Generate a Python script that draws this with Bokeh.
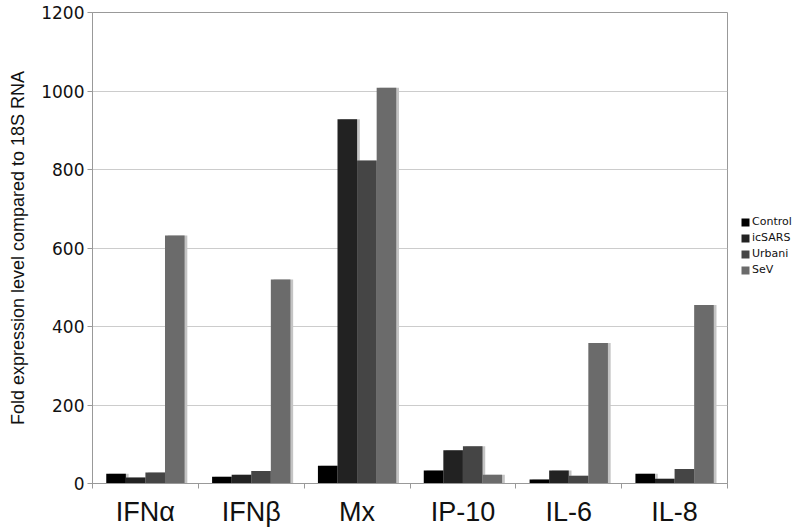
from bokeh.plotting import figure
from bokeh.layouts import row
from bokeh.models import ColumnDataSource, FixedTicker, Range1d, Legend, LegendItem
from bokeh.transform import dodge
from bokeh.embed import file_html
from bokeh.resources import INLINE

categories = ["IFNα", "IFNβ", "Mx", "IP-10", "IL-6", "IL-8"]
series = ["Control", "icSARS", "Urbani", "SeV"]
control = [25, 17, 45, 33, 10, 25]
icsars = [15, 22, 928, 85, 33, 12]
urbani = [28, 32, 823, 95, 20, 37]
sev = [632, 520, 1008, 22, 358, 455]
colors = ["#000000", "#222222", "#454545", "#6b6b6b"]
y_ticks = [0, 200, 400, 600, 800, 1000, 1200]

centers = [i + 0.5 for i in range(len(categories))]
src = ColumnDataSource(dict(x=centers, Control=control, icSARS=icsars, Urbani=urbani, SeV=sev))

H = 529
p = figure(width=729, height=H, output_backend="svg", toolbar_location=None,
           x_range=Range1d(0, len(categories)), y_range=Range1d(0, 1200),
           min_border_left=92, min_border_top=12, min_border_bottom=41, min_border_right=2)

bw = 0.185
for j, name in enumerate(series):
    off = (j - 1.5) * bw
    p.vbar(x=dodge("x", off + 0.026, range=p.x_range), top=name, width=bw, source=src,
           fill_color="#c4c4c4", line_color=None)
for j, (name, col) in enumerate(zip(series, colors)):
    off = (j - 1.5) * bw
    p.vbar(x=dodge("x", off, range=p.x_range), top=name, width=bw, source=src,
           fill_color=col, line_color=None)

# x axis
p.xaxis.ticker = FixedTicker(ticks=centers, minor_ticks=list(range(len(categories) + 1)))
p.xaxis.major_label_overrides = {c: lab for c, lab in zip(centers, categories)}
p.xaxis.major_tick_out = 0
p.xaxis.major_tick_in = 0
p.xaxis.minor_tick_out = 5
p.xaxis.minor_tick_in = 0
p.xaxis.minor_tick_line_color = "#999999"
p.xaxis.axis_line_color = "#999999"
p.xaxis.major_label_text_font = "Liberation Sans"
p.xaxis.major_label_text_font_size = "27px"
p.xaxis.major_label_text_color = "#111111"
p.xaxis.major_label_standoff = 8

# y axis
p.yaxis.ticker = FixedTicker(ticks=y_ticks)
p.yaxis.minor_tick_line_color = None
p.yaxis.major_tick_out = 5
p.yaxis.major_tick_in = 0
p.yaxis.major_tick_line_color = "#999999"
p.yaxis.axis_line_color = "#999999"
p.yaxis.major_label_text_font = "DejaVu Sans"
p.yaxis.major_label_text_font_size = "17px"
p.yaxis.major_label_text_color = "#111111"
p.yaxis.major_label_standoff = 3
p.yaxis.axis_label = "Fold expression level compared to 18S RNA"
p.yaxis.axis_label_text_font = "Liberation Sans"
p.yaxis.axis_label_text_font_style = "normal"
p.yaxis.axis_label_text_font_size = "18px"
p.yaxis.axis_label_text_color = "#111111"
p.yaxis.axis_label_standoff = 10

p.xgrid.grid_line_color = None
p.ygrid.grid_line_color = "#cccccc"
p.outline_line_color = "#999999"
p.background_fill_color = "white"

# legend panel
lg = figure(width=71, height=H, output_backend="svg", toolbar_location=None,
            x_axis_type=None, y_axis_type=None, x_range=Range1d(0, 1), y_range=Range1d(0, 1),
            min_border_left=0, min_border_right=0, min_border_top=0, min_border_bottom=0)
lg.outline_line_color = None
lg.xgrid.grid_line_color = None
lg.ygrid.grid_line_color = None
items = []
for name, col in zip(series, colors):
    r = lg.vbar(x=[0], top=[0], width=0.01, fill_color=col, line_color=None)
    items.append(LegendItem(label=name, renderers=[r]))
legend = Legend(items=items, location=(11, 207), glyph_width=10, glyph_height=10,
                label_standoff=2, spacing=3, padding=0, margin=0, border_line_color=None,
                background_fill_alpha=0, label_text_font="DejaVu Sans",
                label_text_font_size="11px", label_height=10, label_text_color="#111111")
lg.add_layout(legend, "center")

open("out.html", "w").write(file_html(row(p, lg), INLINE))
